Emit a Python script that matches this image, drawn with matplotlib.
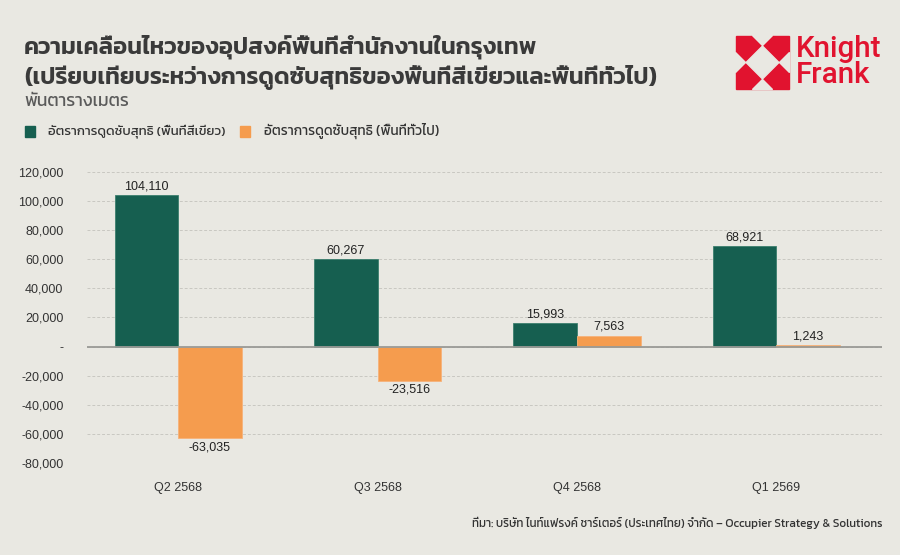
import matplotlib
matplotlib.use("Agg")
import matplotlib.pyplot as plt
from matplotlib.patches import Polygon, Rectangle
import numpy as np

# ---- data ----
categories = ["Q2 2568", "Q3 2568", "Q4 2568", "Q1 2569"]
green_values = [104110, 60267, 15993, 68921]
orange_values = [-63035, -23516, 7563, 1243]
series_names = ["อัตราการดูดซับสุทธิ (พื้นที่สีเขียว)", "อัตราการดูดซับสุทธิ (พื้นที่ทั่วไป)"]
yticks = [-80000, -60000, -40000, -20000, 0, 20000, 40000, 60000, 80000, 100000, 120000]
title1 = "ความเคลื่อนไหวของอุปสงค์พื้นที่สำนักงานในกรุงเทพ"
title2 = "(เปรียบเทียบระหว่างการดูดซับสุทธิของพื้นที่สีเขียวและพื้นที่ทั่วไป)"
subtitle = "พันตารางเมตร"
source = "ที่มา: บริษัท ไนท์แฟรงค์ ชาร์เตอร์ (ประเทศไทย) จำกัด – Occupier Strategy & Solutions"

BG = "#E9E8E2"
GREEN = "#165F50"
ORANGE = "#F59C4E"
RED = "#E1132F"
TXT = "#333333"
THAI = ["Kanit", "Noto Sans Thai", "DejaVu Sans"]
NUM = ["Liberation Sans", "DejaVu Sans"]

W, H = 900, 555
fig = plt.figure(figsize=(9, 5.55), dpi=100, facecolor=BG)
renderer = fig.canvas.get_renderer()

def fx(px):
    return px / W

def fy(py):
    return 1 - py / H

def fit_text(xpx, ypx, s, target_w, ha="left", size0=10, **kw):
    t = fig.text(fx(xpx), fy(ypx), s, ha=ha, va="center", fontsize=size0, **kw)
    w = t.get_window_extent(renderer).width
    t.set_fontsize(size0 * target_w / w)
    return t

ax = fig.add_axes([fx(87), fy(463), fx(882) - fx(87), fy(172) - fy(463)])
ax.set_facecolor(BG)

x = np.arange(len(categories))
bw = 0.319
b1 = ax.bar(x - bw / 2, green_values, bw, color=GREEN, edgecolor="#3C7E6E", linewidth=0.6, zorder=3)
b2 = ax.bar(x + bw / 2, orange_values, bw, color=ORANGE, edgecolor="#F7B27A", linewidth=0.6, zorder=3)

for bars, vals in ((b1, green_values), (b2, orange_values)):
    ax.bar_label(bars, labels=[f"{v:,}" for v in vals], padding=2,
                 fontsize=9, color="#222222", family=NUM)

ax.set_xlim(-0.457, 3.53)
ax.set_ylim(-80000, 120000)
ax.set_yticks(yticks)
ax.set_yticklabels(["-" if v == 0 else f"{v:,}" for v in yticks], family=NUM, fontsize=9, color=TXT)
ax.set_xticks(x)
ax.set_xticklabels(categories, family=NUM, fontsize=9, color=TXT)
ax.tick_params(axis="both", length=0)
ax.tick_params(axis="y", pad=17)
ax.tick_params(axis="x", pad=14)
for s in ax.spines.values():
    s.set_visible(False)
ax.grid(axis="y", color="#C9C8C2", linestyle=(0, (3, 2)), linewidth=0.7, zorder=0)
ax.axhline(0, color="#9A9A96", linewidth=1.3, zorder=4)

# ---- titles ----
t2 = fit_text(24, 77, title2, 633, family=THAI, fontweight="semibold", color="#3A3A3A", size0=16)
fig.text(fx(24), fy(47), title1, family=THAI, fontweight="semibold", color="#3A3A3A",
         fontsize=t2.get_fontsize(), va="center", ha="left")
fit_text(24, 102, subtitle, 105, family=THAI, fontweight="normal", color="#5A5A5A", size0=12)

# ---- legend ----
fig.add_artist(Rectangle((fx(25), fy(137)), fx(10), fy(126) - fy(137), color=GREEN,
                         transform=fig.transFigure))
fit_text(48, 131, series_names[0], 177, family=THAI, fontweight="normal", color=TXT, size0=9)
fig.add_artist(Rectangle((fx(240), fy(137)), fx(10), fy(126) - fy(137), color=ORANGE,
                         transform=fig.transFigure))
fit_text(264, 131, series_names[1], 174, family=THAI, fontweight="normal", color=TXT, size0=9)

# ---- source ----
fit_text(882, 523, source, 412, ha="right", family=THAI, fontweight="normal", color=TXT, size0=8)

# ---- logo ----
lx, ly, s = 736, 36, 53
def P(u, v):
    return (fx(lx + u * s), fy(ly + v * s))
fig.add_artist(Polygon([P(0, 0), P(1, 0), P(1, 1), P(0, 1)], closed=True, color=RED,
                       transform=fig.transFigure))
d = 0.31
n = 0.18
white = [
    [P(0.5, 0.5 - d), P(0.5 + d, 0.5), P(0.5, 0.5 + d), P(0.5 - d, 0.5)],
    [P(0.5 - n - 0.01, -0.01), P(0.5 + n + 0.01, -0.01), P(0.5, n)],
    [P(0.5 - n - 0.01, 1.01), P(0.5 + n + 0.01, 1.01), P(0.5, 1 - n)],
    [P(-0.01, 0.5 - n - 0.01), P(-0.01, 0.5 + n + 0.01), P(n, 0.5)],
    [P(1.01, 0.5 - n - 0.01), P(1.01, 0.5 + n + 0.01), P(1 - n, 0.5)],
]
for poly in white:
    fig.add_artist(Polygon(poly, closed=True, color=BG, transform=fig.transFigure))
kt = fit_text(796, 49, "Knight", 86, family=["Roboto", "DejaVu Sans"], fontweight="medium",
              color=RED, size0=19)
fig.text(fx(796), fy(75), "Frank", family=["Roboto", "DejaVu Sans"], fontsize=kt.get_fontsize(),
         fontweight="medium", color=RED, va="center", ha="left")

fig.savefig("out.png", dpi=100, facecolor=BG)
